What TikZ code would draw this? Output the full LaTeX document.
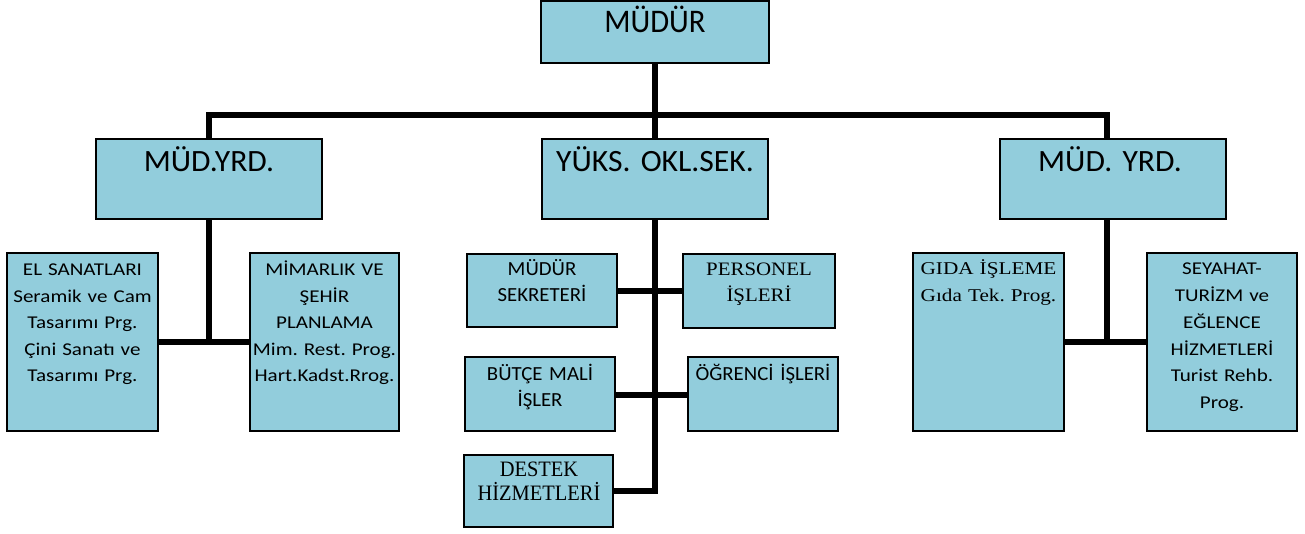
\documentclass[tikz,border=0pt]{standalone}
\usepackage{fontspec}
\newfontfamily\calA[FakeStretch=0.93]{Carlito}
\newfontfamily\calB[FakeStretch=1.02]{Carlito}
\newfontfamily\calC[FakeStretch=1.17]{Carlito}
\newfontfamily\calD[FakeStretch=1.04]{Carlito}
\newfontfamily\timA[FakeStretch=1.1]{Liberation Serif}
\newfontfamily\timB[FakeStretch=1.18]{Liberation Serif}
\newfontfamily\timC[FakeStretch=0.93]{Liberation Serif}
\definecolor{boxblue}{RGB}{146,205,220}
\tikzset{
  box/.style={draw=black, line width=1.8pt, fill=boxblue, inner sep=0pt},
  conn/.style={draw=black, line width=5.5pt, line join=miter, line cap=butt},
  txt/.style={anchor=base, inner sep=0pt, text width=300pt, align=center, execute at begin node=\frenchspacing},
  topf/.style={font=\calA\fontsize{33}{38}\selectfont},
  midf/.style={font=\calB\fontsize{31}{36}\selectfont},
  lrf/.style={font=\calC\fontsize{18}{26.4}\selectfont},
  cenf/.style={font=\calD\fontsize{20}{26}\selectfont},
}
\newcommand\mybox[5]{\node[box, minimum width=#4-#2, minimum height=#5-#3] (#1) at ({(#2+#4)/2},{(#3+#5)/2}) {};}
\begin{document}
\begin{tikzpicture}[x=1pt,y=-1pt]
\useasboundingbox (0,0) rectangle (1305,534);
% boxes
\mybox{top}{541}{1}{769}{63}
\mybox{yrdA}{96}{139}{322}{219}
\mybox{yks}{542}{139}{768}{219}
\mybox{yrdB}{1000}{139}{1226}{219}
\mybox{el}{7}{253}{158}{431}
\mybox{mim}{250}{253}{399}{431}
\mybox{sek}{467}{254}{617}{327}
\mybox{per}{683}{254}{835}{328}
\mybox{but}{465}{357}{615}{431}
\mybox{ogr}{688}{357}{838}{431}
\mybox{des}{464}{455}{613}{527}
\mybox{gida}{913}{253}{1064}{431}
\mybox{sey}{1147}{253}{1297}{431}
% connectors
\coordinate (barL) at (209,115);
\coordinate (barR) at (1107,115);
\coordinate (jL) at (209,342);
\coordinate (jR) at (1107,342);
\coordinate (spineEnd) at (655,491);
\draw[conn] (top.south) -- (yks.north);
\draw[conn] (yrdA.north -| barL) -- (barL) -- (barR) -- (yrdB.north -| barR);
\draw[conn] (yrdA.south -| jL) -- (jL);
\draw[conn] (el.east |- jL) -- (mim.west |- jL);
\draw[conn] (yrdB.south -| jR) -- (jR);
\draw[conn] (gida.east |- jR) -- (sey.west |- jR);
\draw[conn] (yks.south) -- (spineEnd) -- (des.east |- spineEnd);
\draw[conn] (sek.east |- 0,291) -- (per.west |- 0,291);
\draw[conn] (but.east |- 0,395) -- (ogr.west |- 0,395);
% texts
\node[txt, topf] (tTop) at (655,33) {MÜDÜR};
\node[txt, midf] (tA) at (209,172) {MÜD.YRD.};
\node[txt, midf] (tY) at (655,172) {YÜKS.\ OKL.SEK.};
\node[txt, midf] (tB) at (1110,172) {MÜD.\ YRD.};
\node[txt, lrf] (tEl) at (82.5,276) {EL SANATLARI\\Seramik ve Cam\\Tasarımı Prg.\\Çini Sanatı ve\\Tasarımı Prg.};
\node[txt, lrf] (tMim) at (324.5,276) {MİMARLIK VE\\ŞEHİR\\PLANLAMA\\Mim.\ Rest.\ Prog.\\Hart.Kadst.Rrog.};
\node[txt, cenf] (tSek) at (542,276) {MÜDÜR\\SEKRETERİ};
\node[txt, font=\timA\fontsize{19}{25.7}\selectfont] (tPer) at (759,276) {PERSONEL\\İŞLERİ};
\node[txt, cenf] (tBut) at (540,380) {BÜTÇE MALİ\\İŞLER};
\node[txt, cenf] (tOgr) at (763,380) {ÖĞRENCİ İŞLERİ};
\node[txt, font=\timC\fontsize{22}{23.3}\selectfont] (tDes) at (539,476.7) {DESTEK\\HİZMETLERİ};
\node[txt, font=\timB\fontsize{18}{26.7}\selectfont] (tGida) at (988.5,275) {GIDA İŞLEME\\Gıda Tek.\ Prog.};
\node[txt, font=\calC\fontsize{18}{26.7}\selectfont] (tSey) at (1222,275) {SEYAHAT-\\TURİZM ve\\EĞLENCE\\HİZMETLERİ\\Turist Rehb.\\Prog.};
\end{tikzpicture}
\end{document}
